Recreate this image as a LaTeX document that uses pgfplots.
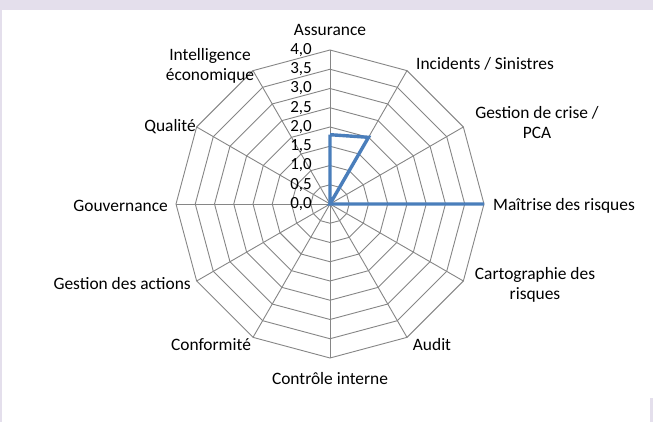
\documentclass[border=0pt]{standalone}
\usepackage{pgfplots}
\pgfplotsset{compat=1.18}
\usepackage{fontspec}
\setmainfont{Carlito}
\definecolor{bgframe}{RGB}{228,223,236}
\definecolor{gridgray}{RGB}{134,134,134}
\definecolor{serieblue}{RGB}{74,126,187}
\begin{document}
\begin{tikzpicture}[x=1pt,y=1pt]
\fill[bgframe] (0,0) rectangle (653,422);
\fill[white] (2,0) rectangle (653,412);
\fill[bgframe] (650,0) rectangle (653,24);
\begin{axis}[
  at={(330pt,218pt)}, anchor=center,
  scale only axis, width=308pt, height=308pt,
  xmin=-4, xmax=4, ymin=-4, ymax=4,
  hide axis, clip=false,
  every axis plot/.append style={data cs=polar},
]
% anneaux de la grille
\addplot[gridgray, line width=0.9pt] coordinates {(90,0.5)(60,0.5)(30,0.5)(0,0.5)(-30,0.5)(-60,0.5)(-90,0.5)(-120,0.5)(-150,0.5)(180,0.5)(150,0.5)(120,0.5)(90,0.5)};
\addplot[gridgray, line width=0.9pt] coordinates {(90,1)(60,1)(30,1)(0,1)(-30,1)(-60,1)(-90,1)(-120,1)(-150,1)(180,1)(150,1)(120,1)(90,1)};
\addplot[gridgray, line width=0.9pt] coordinates {(90,1.5)(60,1.5)(30,1.5)(0,1.5)(-30,1.5)(-60,1.5)(-90,1.5)(-120,1.5)(-150,1.5)(180,1.5)(150,1.5)(120,1.5)(90,1.5)};
\addplot[gridgray, line width=0.9pt] coordinates {(90,2)(60,2)(30,2)(0,2)(-30,2)(-60,2)(-90,2)(-120,2)(-150,2)(180,2)(150,2)(120,2)(90,2)};
\addplot[gridgray, line width=0.9pt] coordinates {(90,2.5)(60,2.5)(30,2.5)(0,2.5)(-30,2.5)(-60,2.5)(-90,2.5)(-120,2.5)(-150,2.5)(180,2.5)(150,2.5)(120,2.5)(90,2.5)};
\addplot[gridgray, line width=0.9pt] coordinates {(90,3)(60,3)(30,3)(0,3)(-30,3)(-60,3)(-90,3)(-120,3)(-150,3)(180,3)(150,3)(120,3)(90,3)};
\addplot[gridgray, line width=0.9pt] coordinates {(90,3.5)(60,3.5)(30,3.5)(0,3.5)(-30,3.5)(-60,3.5)(-90,3.5)(-120,3.5)(-150,3.5)(180,3.5)(150,3.5)(120,3.5)(90,3.5)};
\addplot[gridgray, line width=0.9pt] coordinates {(90,4)(60,4)(30,4)(0,4)(-30,4)(-60,4)(-90,4)(-120,4)(-150,4)(180,4)(150,4)(120,4)(90,4)};
% rayons
\addplot[gridgray, line width=0.9pt] coordinates {(90,4)(270,4)};
\addplot[gridgray, line width=0.9pt] coordinates {(60,4)(240,4)};
\addplot[gridgray, line width=0.9pt] coordinates {(30,4)(210,4)};
\addplot[gridgray, line width=0.9pt] coordinates {(0,4)(180,4)};
\addplot[gridgray, line width=0.9pt] coordinates {(-30,4)(150,4)};
\addplot[gridgray, line width=0.9pt] coordinates {(-60,4)(120,4)};
% serie
\addplot[serieblue, line width=3.4pt, line join=miter] coordinates {
  (90,1.8)(60,2.0)(30,0)(0,4)(-30,0)(-60,0)(-90,0)(-120,0)(-150,0)(180,0)(150,0)(120,0)(90,1.8)};
% graduations
\begin{scope}[every node/.style={font=\fontsize{17}{20}\selectfont, inner sep=0pt, anchor=east, xshift=-18pt}]
\node at (axis cs:0,0) {0,0};
\node at (axis cs:0,0.5) {0,5};
\node at (axis cs:0,1) {1,0};
\node at (axis cs:0,1.5) {1,5};
\node at (axis cs:0,2) {2,0};
\node at (axis cs:0,2.5) {2,5};
\node at (axis cs:0,3) {3,0};
\node at (axis cs:0,3.5) {3,5};
\node at (axis cs:0,4) {4,0};
\end{scope}
\end{axis}
\begin{scope}[every node/.style={font=\fontsize{17.4}{20}\selectfont, inner sep=0pt}]
\node at (330,392) {Assurance};
\node at (485,358) {Incidents / Sinistres};
\node[align=center] at (537,299) {Gestion de crise /\\PCA};
\node[anchor=west] at (493,216) {Maîtrise des risques};
\node[align=center] at (535,137) {Cartographie des\\risques};
\node at (432,77) {Audit};
\node at (330,43) {Contrôle interne};
\node at (211,77) {Conformité};
\node[anchor=east] at (191,138) {Gestion des actions};
\node[anchor=east] at (168,216) {Gouvernance};
\node[anchor=east] at (196,295) {Qualité};
\node[align=center] at (210,356) {Intelligence\\économique};
\end{scope}
\end{tikzpicture}
\end{document}
